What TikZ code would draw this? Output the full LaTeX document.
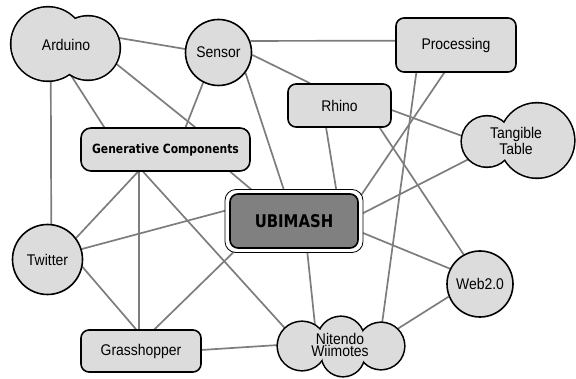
\documentclass[tikz,border=0pt]{standalone}
\usepackage{fontspec}
\setmainfont{Liberation Sans}[FakeStretch=0.9]
\newfontfamily\boldsans{DejaVu Sans}[FakeStretch=0.85]
\usetikzlibrary{shapes,backgrounds,calc}
\definecolor{nodegray}{RGB}{220,220,220}
\definecolor{linkgray}{RGB}{125,125,125}
\definecolor{hubgray}{RGB}{128,128,128}

\begin{document}
\begin{tikzpicture}[x=1pt,y=-1pt,font=\fontsize{15.5}{15}\selectfont,
box/.style ={rectangle, draw=black, line width=1.6pt, fill=nodegray, rounded corners=8pt, inner sep=0pt},
ball/.style ={circle, draw=black, line width=1.6pt, fill=nodegray, inner sep=0pt},
puff/.style ={ellipse, inner sep=0pt, align=center},
link/.style ={draw=linkgray, line width=1.7pt}]
\useasboundingbox (0,0) rectangle (576,379);
% clouds made of overlapping bumps
\foreach \x/\y/\r in {48/44/36.5, 88/48/31.5, 487/141.5/25, 537/140.5/37, 302/346/24, 341/340/23, 381/346/23, 343/355/21}
  \draw[line width=3.2pt] (\x,\y) circle (\r pt);
\foreach \x/\y/\r in {48/44/36.5, 88/48/31.5, 487/141.5/25, 537/140.5/37, 302/346/24, 341/340/23, 381/346/23, 343/355/21}
  \fill[nodegray] (\x,\y) circle (\r pt);
\draw (66,45) node[puff, minimum width=96pt, minimum height=60pt] (Ar) {Arduino};
\draw (516,141) node[puff, minimum width=100pt, minimum height=52pt, font=\fontsize{15.5}{11}\selectfont] (TT) {Tangible\\Table};
\draw (340,345) node[puff, minimum width=96pt, minimum height=40pt, font=\fontsize{15.5}{12}\selectfont] (Wii) {Nitendo\\Wiimotes};

\draw (218.5,52.5) node[ball, minimum size=66pt] (Se) {Sensor};
\draw (456,45) node[box, minimum width=120pt, minimum height=54pt] (Pr) {Processing};
\draw (339.5,105.5) node[box, minimum width=103pt, minimum height=43pt] (Rh) {Rhino};
\draw (165.5,149.5) node[box, rounded corners=10pt, minimum width=169pt, minimum height=43pt, font=\boldsans\bfseries\fontsize{12.7}{14}\selectfont] (GC) {Generative Components};
\draw[line width=0.8pt, fill=white, rounded corners=11pt] (225,189.5) rectangle (363,252.5);
\draw (294,221) node[box, fill=hubgray, minimum width=128pt, minimum height=54pt, font=\boldsans\bfseries\fontsize{17.5}{18}\selectfont] (UB) {UBIMASH};
\draw (47.5,259.5) node[ball, minimum size=70pt] (Tw) {Twitter};
\draw (480,284) node[ball, minimum size=66pt] (Web) {Web2.0};
\draw (141,351) node[box, minimum width=120pt, minimum height=42pt] (Gr) {Grasshopper};

\begin{scope}[on background layer]
\draw[link] (Ar.10)--(Se.174);
\draw[link] (Ar.-118)--(Tw.84);
\draw[link] (Ar.-81)--(GC.160);
\draw[link] (Ar.-17)--(GC.37);
\draw[link] (Se.-117)--(GC.48);
\draw[link] (Se.20)--(Pr.176);
\draw[link] (Se.-4)--(Rh.143);
\draw[link] (Se.-37)--(UB.108);
\draw[link] (Rh.-121)--(UB.33);
\draw[link] (Pr.-113)--(UB.19);
\draw[link] (Pr.-145)--(Wii.15);
\draw[link] (Rh.-29)--(Web.119);
\draw[link] (Rh.-5)--(TT.176);
\draw[link] (TT.-160)--(UB.5);
\draw[link] (UB.-9)--(Web.153);
\draw[link] (UB.-65)--(Wii.145);
\draw[link] (Web.-158)--(Wii.10);
\draw[link] (UB.170)--(Tw.17);
\draw[link] (UB.-154)--(Gr.58);
\draw[link] (GC.-141)--(Tw.37);
\draw[link] (GC.-140)--(Gr.95);
\draw[link] (GC.-135)--(Wii.172);
\draw[link] (Tw.-12)--(Gr.103);
\draw[link] (Gr.1)--(Wii.179);
\draw[link] (GC.-19)--(UB.144);
\end{scope}
\end{tikzpicture}
\end{document}
